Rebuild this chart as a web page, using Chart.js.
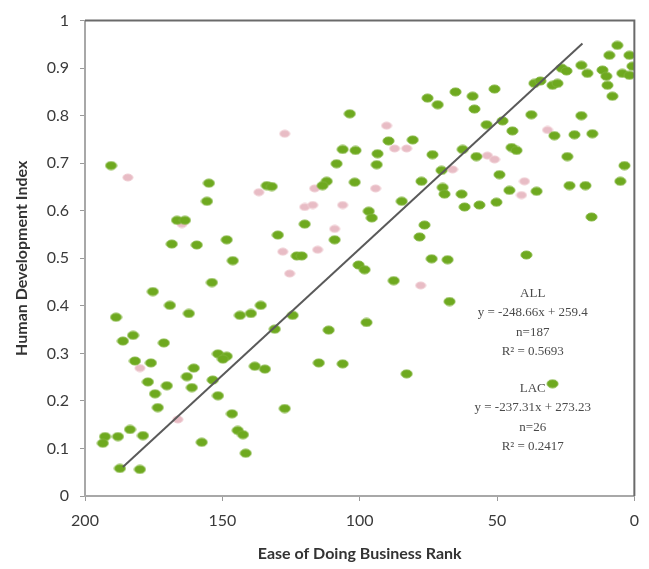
<!DOCTYPE html>
<html>
<head>
<meta charset="utf-8">
<script src="https://cdn.jsdelivr.net/npm/chart.js@4"></script>
<style>
  html, body { margin: 0; padding: 0; background: #fff; }
  #wrap { width: 649px; height: 569px; }
</style>
</head>
<body>
<div id="wrap"><canvas id="chart" width="649" height="569"></canvas></div>
<script>
// ease of doing business rank (x) and HDI (y), all countries
const allRank = [
  190.5, 154.9, 155.6, 166.5, 163.6, 168.4, 159.3, 148.4, 146.2, 153.8,
  175.3, 169.1, 162.2, 143.6, 139.6, 136.0, 188.7, 182.5, 186.2, 171.3,
  181.8, 176.0, 160.4, 162.9, 177.1, 170.2, 161.1, 174.5, 173.5, 151.6,
  148.4, 149.8, 153.5, 151.6, 146.5, 144.4, 142.5, 141.5, 157.5, 192.7,
  188.0, 193.5, 183.6, 178.9, 187.3, 180.0, 138.2, 134.5, 133.8, 130.9,
  124.4, 111.3, 97.5, 114.9, 106.2, 82.9, 127.3, 103.6, 106.2, 101.5,
  108.4, 93.5, 112.0, 113.5, 101.8, 132.0, 120.0, 129.8, 109.1, 122.9,
  121.1, 96.7, 95.6, 100.4, 98.2, 87.6, 67.3, 89.5, 80.7, 75.3,
  71.6, 65.1, 58.9, 58.2, 50.9, 73.5, 62.5, 57.5, 70.2, 77.5,
  69.8, 69.1, 62.9, 84.7, 61.8, 56.4, 50.2, 76.4, 78.2, 73.8,
  68.0, 53.8, 48.0, 44.4, 44.7, 42.9, 49.1, 45.5, 35.6, 39.3,
  37.5, 29.1, 21.8, 15.3, 24.4, 23.6, 17.8, 15.6, 3.6, 5.1,
  19.3, 36.4, 34.2, 29.8, 28.0, 26.5, 24.7, 19.3, 17.1, 11.6,
  10.2, 4.4, 1.8, 0.7, 9.8, 8.0, 9.1, 1.8, 6.2, 29.8,
  93.8
];
const allHdi = [
  0.695, 0.658, 0.620, 0.580, 0.580, 0.530, 0.528, 0.539, 0.495, 0.449,
  0.430, 0.401, 0.384, 0.380, 0.384, 0.401, 0.376, 0.338, 0.326, 0.322,
  0.284, 0.280, 0.269, 0.251, 0.240, 0.232, 0.228, 0.215, 0.186, 0.299,
  0.294, 0.288, 0.244, 0.211, 0.173, 0.138, 0.129, 0.090, 0.113, 0.125,
  0.125, 0.111, 0.140, 0.127, 0.058, 0.056, 0.273, 0.267, 0.653, 0.351,
  0.380, 0.349, 0.365, 0.280, 0.278, 0.257, 0.184, 0.804, 0.729, 0.727,
  0.699, 0.720, 0.662, 0.653, 0.660, 0.651, 0.572, 0.549, 0.539, 0.505,
  0.505, 0.599, 0.585, 0.486, 0.476, 0.453, 0.409, 0.747, 0.749, 0.837,
  0.823, 0.850, 0.841, 0.814, 0.856, 0.718, 0.729, 0.714, 0.685, 0.662,
  0.649, 0.635, 0.635, 0.620, 0.608, 0.612, 0.618, 0.570, 0.545, 0.499,
  0.497, 0.781, 0.789, 0.768, 0.733, 0.727, 0.676, 0.643, 0.641, 0.507,
  0.802, 0.758, 0.760, 0.762, 0.714, 0.653, 0.653, 0.587, 0.695, 0.662,
  0.800, 0.868, 0.873, 0.864, 0.868, 0.900, 0.894, 0.906, 0.889, 0.896,
  0.883, 0.889, 0.885, 0.904, 0.864, 0.841, 0.927, 0.927, 0.948, 0.236,
  0.697
];

// Latin America & Caribbean
const lacRank = [
  184.4, 164.7, 136.7, 127.3, 90.2, 87.3, 82.9, 66.2, 116.4, 94.2,
  120.0, 117.1, 106.2, 109.1, 128.0, 115.3, 125.5, 77.8, 180.0, 166.2,
  31.6, 53.5, 50.9, 40.0, 41.1
];
const lacHdi = [
  0.670, 0.572, 0.639, 0.762, 0.779, 0.731, 0.731, 0.687, 0.647, 0.647,
  0.608, 0.612, 0.612, 0.562, 0.514, 0.518, 0.468, 0.443, 0.269, 0.161,
  0.770, 0.716, 0.708, 0.662, 0.633
];

// trend line ends as drawn
const trendRank = [186.2, 18.9];
const trendHdi = [0.061, 0.952];

const xTicks = [200, 150, 100, 50, 0];

const notes = [
  ['ALL', 'y = -248.66x + 259.4', 'n=187', 'R² = 0.5693'],
  ['LAC', 'y = -237.31x + 273.23', 'n=26', 'R² = 0.2417']
];

const toPoints = (xs, ys) => xs.map((x, i) => ({ x: x, y: ys[i] }));

// ellipse-shaped marker like the spreadsheet dots
const makeDot = (w, h, fill, edge) => {
  const c = document.createElement('canvas');
  c.width = w + 2;
  c.height = h + 2;
  const g = c.getContext('2d');
  g.beginPath();
  g.ellipse(c.width / 2, c.height / 2, w / 2, h / 2, 0, 0, Math.PI * 2);
  g.fillStyle = fill;
  g.fill();
  g.lineWidth = 1;
  g.strokeStyle = edge;
  g.stroke();
  return c;
};

const greenDot = makeDot(11, 8, '#6ea91f', '#7fb33a');
const pinkDot = makeDot(10, 7, '#e8bcc5', '#efccd2');

const framePlugin = {
  id: 'frame',
  afterDatasetsDraw(chart) {
    const { ctx, chartArea } = chart;
    ctx.save();
    ctx.lineWidth = 2;
    ctx.strokeStyle = '#6a6a6a';
    ctx.beginPath();
    ctx.moveTo(chartArea.left, chartArea.top);
    ctx.lineTo(chartArea.right, chartArea.top);
    ctx.lineTo(chartArea.right, chartArea.bottom);
    ctx.stroke();
    ctx.restore();
  }
};

const notesPlugin = {
  id: 'notes',
  afterDatasetsDraw(chart) {
    const { ctx, scales } = chart;
    const cx = scales.x.getPixelForValue(37);
    const starts = [scales.y.getPixelForValue(0.426), scales.y.getPixelForValue(0.226)];
    ctx.save();
    ctx.font = '13px "Liberation Serif", "DejaVu Serif", serif';
    ctx.fillStyle = '#4a4a4a';
    ctx.textAlign = 'center';
    ctx.textBaseline = 'middle';
    notes.forEach((block, b) => {
      block.forEach((line, i) => {
        ctx.fillText(line, cx, starts[b] + i * 19.5);
      });
    });
    ctx.restore();
  }
};

const ctx = document.getElementById('chart').getContext('2d');

new Chart(ctx, {
  type: 'scatter',
  data: {
    datasets: [
      {
        type: 'line',
        label: 'Trend',
        data: toPoints(trendRank, trendHdi),
        borderColor: '#5a5a5a',
        borderWidth: 2,
        pointRadius: 0,
        fill: false
      },
      {
        label: 'ALL',
        data: toPoints(allRank, allHdi),
        pointStyle: greenDot,
        pointRadius: 5
      },
      {
        label: 'LAC',
        data: toPoints(lacRank, lacHdi),
        pointStyle: pinkDot,
        pointRadius: 5
      }
    ]
  },
  options: {
    responsive: false,
    animation: false,
    layout: { padding: { top: 17, right: 13, left: 0, bottom: 0 } },
    plugins: {
      legend: { display: false },
      tooltip: { enabled: false }
    },
    scales: {
      x: {
        type: 'linear',
        reverse: true,
        min: 0,
        max: 200,
        afterBuildTicks: (scale) => {
          scale.ticks = xTicks.map((v) => ({ value: v }));
        },
        afterFit: (scale) => { scale.height = 73; },
        ticks: {
          padding: 10,
          color: '#3a3a3a',
          font: { family: 'Lato', size: 16 }
        },
        grid: { drawOnChartArea: false, drawTicks: true, tickLength: 5, color: '#9a9a9a' },
        border: { display: true, color: '#a8a8a8', width: 2 },
        title: {
          display: true,
          text: 'Ease of Doing Business Rank',
          color: '#333',
          font: { family: 'Lato', size: 16, weight: 'bold' },
          padding: { top: 0, bottom: 6 }
        }
      },
      y: {
        min: 0,
        max: 1,
        ticks: {
          stepSize: 0.1,
          padding: 11,
          color: '#3a3a3a',
          font: { family: 'Lato', size: 16 },
          callback: (v) => String(Number(v.toFixed(1)))
        },
        afterFit: (scale) => { scale.width = 85; },
        grid: { drawOnChartArea: false, drawTicks: true, tickLength: 5, color: '#9a9a9a' },
        border: { display: true, color: '#a8a8a8', width: 2 },
        title: {
          display: true,
          text: 'Human Development Index',
          color: '#333',
          font: { family: 'Lato', size: 16, weight: 'bold' },
          padding: { top: 12, bottom: 0 }
        }
      }
    }
  },
  plugins: [framePlugin, notesPlugin]
});
</script>
</body>
</html>
